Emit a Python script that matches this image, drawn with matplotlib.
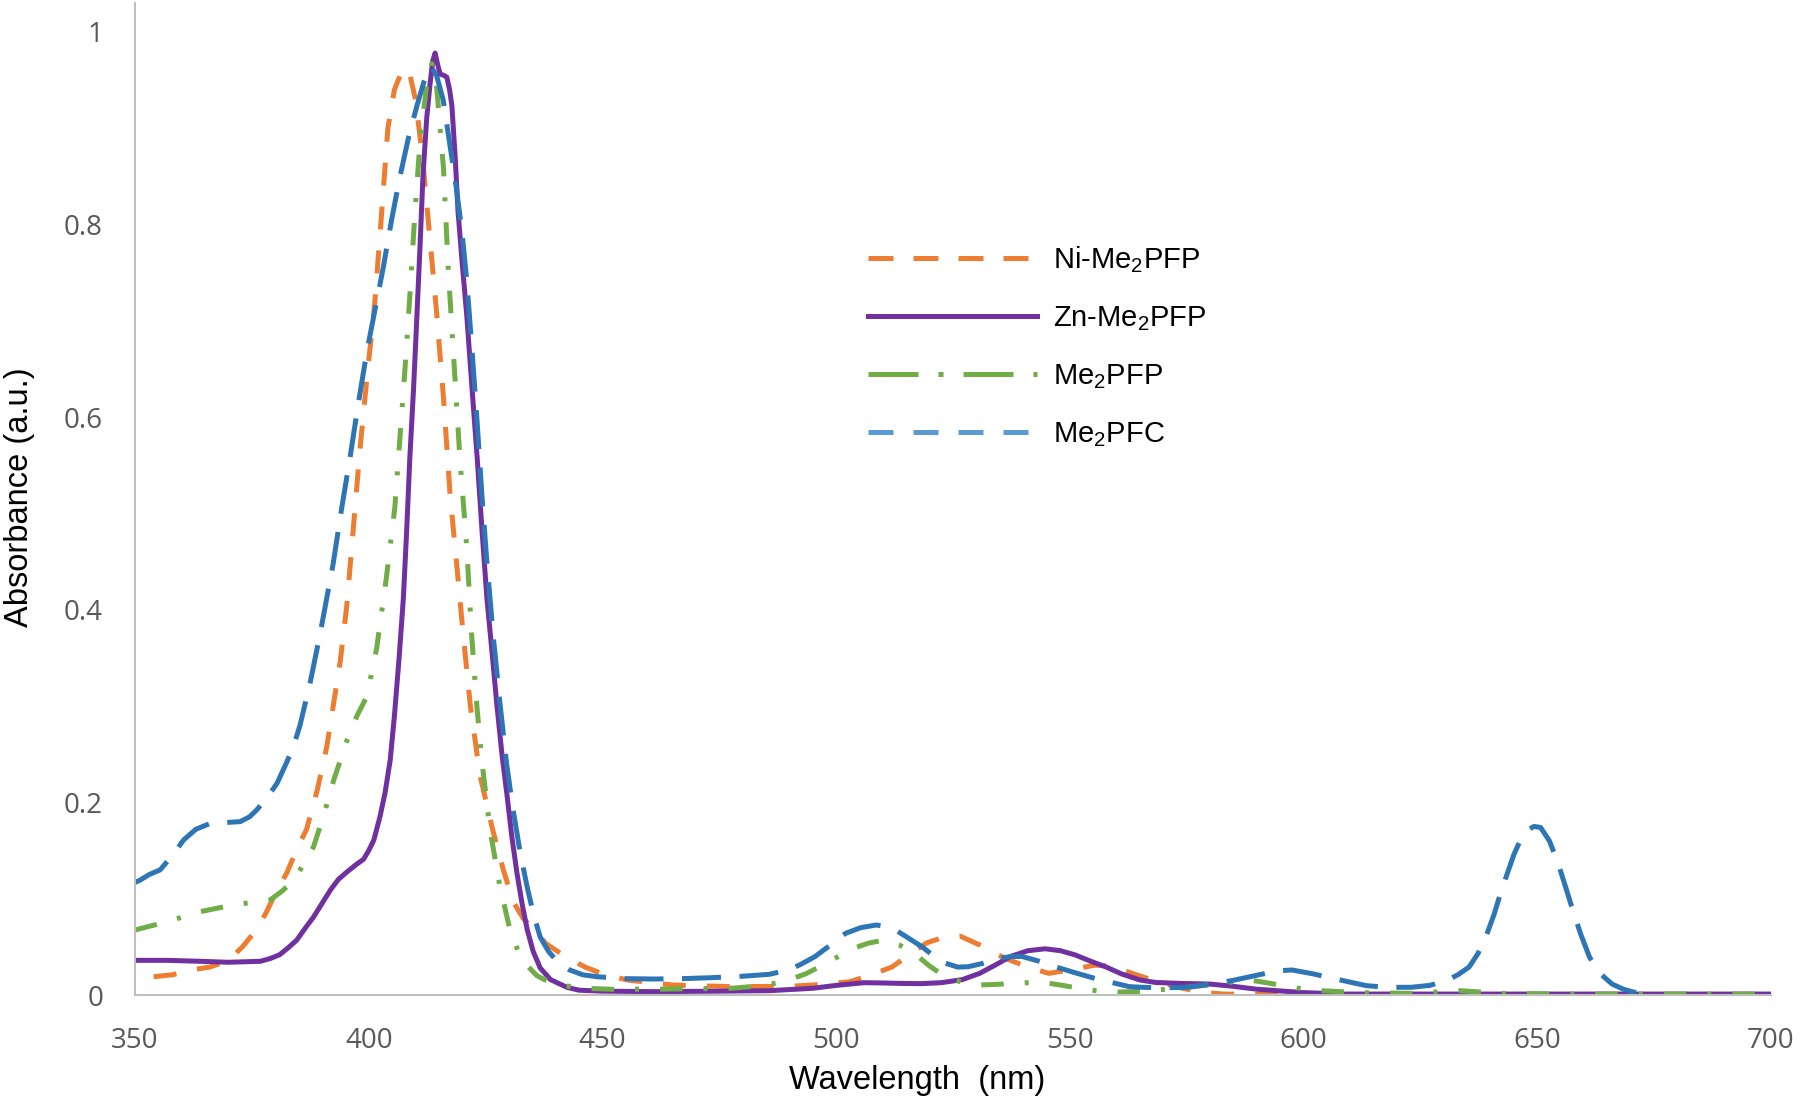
import matplotlib
matplotlib.use("Agg")
import matplotlib.pyplot as plt
from matplotlib.lines import Line2D

plt.rcParams['mathtext.fontset'] = 'custom'
plt.rcParams['mathtext.rm'] = 'Liberation Sans'
plt.rcParams['mathtext.it'] = 'Liberation Sans'
plt.rcParams['mathtext.default'] = 'rm'

labels = ["Ni-Me$_2$PFP", "Zn-Me$_2$PFP", "Me$_2$PFP", "Me$_2$PFC"]

ni_x = [354, 358, 362, 366, 370, 373, 376, 378, 380, 382.5, 384.5, 386.7, 389, 391, 392.4, 393.9, 395.3,
        396.6, 398.1, 399.6, 401.3, 402.8, 404.1, 405.5, 407, 408.5, 410, 411.5, 413, 414.5, 416, 417.4,
        418.8, 420.2, 421.7, 423.8, 426.6, 428.8, 430.9, 433, 435.2, 438, 442.4, 446.3, 450, 455.3, 465,
        477.5, 490, 497, 502.9, 507, 511.9, 516, 519.3, 523, 526.6, 530.7, 534, 537.3, 541, 545.5, 550,
        555.3, 559, 563.6, 568, 573.2, 578, 582.8, 600, 650, 700]
ni_y = [0.019, 0.021, 0.026, 0.029, 0.036, 0.05, 0.068, 0.085, 0.105, 0.127, 0.15, 0.172, 0.213, 0.257, 0.30,
        0.346, 0.404, 0.478, 0.565, 0.64, 0.719, 0.814, 0.90, 0.94, 0.958, 0.962, 0.93, 0.87, 0.79, 0.71,
        0.62, 0.52, 0.448, 0.375, 0.302, 0.228, 0.17, 0.13, 0.097, 0.08, 0.068, 0.053, 0.039, 0.029, 0.022,
        0.0156, 0.0104, 0.0087, 0.009, 0.011, 0.0138, 0.02, 0.029, 0.043, 0.054, 0.06, 0.061, 0.052, 0.043,
        0.036, 0.029, 0.0225, 0.026, 0.031, 0.03, 0.022, 0.015, 0.008, 0.003, 0.001, 0.0, 0.0, 0.0]

zn_x = [350, 357, 364, 370, 376.8, 379, 381, 383, 384.6, 386.5, 388.2, 390, 391.8, 393.5, 395.4, 397.2, 398.9,
        400, 401.1, 402.4, 403.5, 404.6, 405.5, 406.5, 407.4, 408.1, 408.8, 409.6, 410.3, 411, 411.6, 412.4,
        413.1, 413.7, 414.2, 414.8, 415.3, 416, 416.7, 417.3, 417.8, 418.5, 419.1, 420, 421, 422.1, 423.2,
        424.2, 425.3, 426.4, 427.4, 428.5, 429.6, 430.6, 431.7, 432.8, 433.9, 435.2, 436.7, 438.9, 442.4,
        445, 450, 461, 475, 485.7, 495, 500, 506, 510, 514.3, 518, 522.5, 527, 530.7, 534, 537.3, 541,
        544.7, 548, 551.2, 554.5, 557.8, 561, 565, 568.4, 574, 579.9, 585, 590, 594.3, 600, 608.6, 620,
        650, 700]
zn_y = [0.036, 0.036, 0.035, 0.034, 0.035, 0.038, 0.042, 0.05, 0.057, 0.07, 0.081, 0.095, 0.109, 0.12, 0.128,
        0.135, 0.141, 0.15, 0.161, 0.185, 0.21, 0.244, 0.29, 0.35, 0.411, 0.48, 0.558, 0.63, 0.704, 0.78,
        0.85, 0.91, 0.945, 0.97, 0.978, 0.965, 0.956, 0.955, 0.953, 0.94, 0.923, 0.87, 0.814, 0.76, 0.704,
        0.63, 0.558, 0.485, 0.411, 0.355, 0.302, 0.25, 0.207, 0.165, 0.127, 0.095, 0.068, 0.045, 0.028,
        0.016, 0.008, 0.005, 0.004, 0.0035, 0.004, 0.0045, 0.007, 0.01, 0.0128, 0.0125, 0.012, 0.0118,
        0.0128, 0.016, 0.0225, 0.031, 0.04, 0.046, 0.048, 0.046, 0.0415, 0.035, 0.029, 0.022, 0.0156, 0.013,
        0.012, 0.0114, 0.009, 0.006, 0.0045, 0.0025, 0.001, 0.001, 0.001, 0.001]

fp_x = [350, 356.8, 363.9, 371, 378.9, 381.5, 383.9, 386, 388.2, 390.4, 392.5, 395.4, 397.5, 399.6, 401.7,
        403.8, 405.6, 406.7, 407.8, 408.8, 409.9, 411, 412.4, 413.5, 414.5, 416, 417, 418.1, 419.5, 421, 422,
        423.1, 424.2, 426, 428.1, 430.2, 432, 433.8, 436, 438.8, 441.5, 445.9, 452, 461, 477.5, 485, 489.8,
        493.5, 497.1, 500.5, 503.7, 507, 510.2, 513.5, 516.8, 520, 523.4, 527, 530.7, 534, 538.1, 541, 544.7,
        548.5, 552.9, 556.5, 560.2, 566, 575.1, 582, 588.5, 593, 597.1, 603.8, 612, 623, 633.5, 642, 655, 700]
fp_y = [0.0675, 0.076, 0.0865, 0.0935, 0.0987, 0.108, 0.119, 0.135, 0.154, 0.187, 0.223, 0.265, 0.29, 0.31,
        0.36, 0.434, 0.507, 0.58, 0.653, 0.726, 0.814, 0.887, 0.945, 0.967, 0.945, 0.858, 0.755, 0.668, 0.558,
        0.463, 0.375, 0.302, 0.243, 0.17, 0.112, 0.068, 0.045, 0.031, 0.02, 0.013, 0.01, 0.007, 0.006, 0.006,
        0.007, 0.01, 0.0156, 0.022, 0.031, 0.04, 0.0485, 0.054, 0.057, 0.052, 0.043, 0.03, 0.019, 0.013,
        0.0104, 0.011, 0.012, 0.0128, 0.0128, 0.01, 0.006, 0.004, 0.003, 0.004, 0.008, 0.012, 0.0156, 0.012,
        0.008, 0.0045, 0.0025, 0.0017, 0.0045, 0.0017, 0.001, 0.001]

fc_x = [350, 351, 353, 355.4, 358, 360.4, 363, 366, 369, 372.5, 374.5, 376, 378.3, 380.4, 382.3, 383.9, 385.3,
        387.5, 389.6, 392.4, 394.2, 396, 397.8, 399.6, 401.4, 403.1, 404.9, 406.7, 408.5, 410.3, 411.8, 413.3,
        414.5, 415.9, 417.3, 418.8, 420, 421, 422.1, 423.2, 424.2, 425.3, 426.7, 428.1, 429.5, 430.9, 432.4,
        433.9, 435.3, 436.7, 438.5, 440.3, 443, 445.8, 448.8, 455, 461, 467, 473.4, 480, 485.7, 489.8, 492.5,
        495.5, 498.8, 502, 505.3, 508.6, 510.7, 512.7, 515.5, 518.4, 521, 523.4, 526, 528.3, 531.5, 534.8,
        537.5, 539.8, 543.5, 547.1, 551.2, 555.3, 559, 562.7, 565.6, 570, 575.1, 580, 584.7, 589.5, 594.3,
        597.5, 602, 607.5, 613.4, 618, 623, 627, 630.6, 633, 635.4, 637.3, 639.2, 640.7, 642.1, 643.5, 645,
        646.4, 647.8, 649.3, 650.7, 652.6, 654.5, 656, 657.4, 659.3, 661.2, 663.5, 666, 668.4, 670.8, 675]
fc_y = [0.117, 0.119, 0.125, 0.13, 0.145, 0.161, 0.172, 0.178, 0.179, 0.18, 0.185, 0.192, 0.205, 0.22, 0.24,
        0.258, 0.28, 0.325, 0.375, 0.448, 0.505, 0.558, 0.615, 0.668, 0.713, 0.755, 0.805, 0.85, 0.89, 0.923,
        0.948, 0.964, 0.955, 0.93, 0.885, 0.836, 0.79, 0.74, 0.67, 0.594, 0.52, 0.448, 0.37, 0.302, 0.24,
        0.192, 0.148, 0.112, 0.083, 0.06, 0.045, 0.035, 0.026, 0.021, 0.019, 0.017, 0.0166, 0.017, 0.018,
        0.0195, 0.0215, 0.026, 0.032, 0.04, 0.052, 0.064, 0.07, 0.0727, 0.071, 0.0675, 0.059, 0.05, 0.04,
        0.033, 0.029, 0.0294, 0.033, 0.038, 0.04, 0.04, 0.035, 0.029, 0.023, 0.0173, 0.013, 0.0087, 0.008,
        0.0075, 0.008, 0.011, 0.015, 0.02, 0.025, 0.026, 0.022, 0.016, 0.0097, 0.008, 0.008, 0.01, 0.015,
        0.021, 0.029, 0.043, 0.063, 0.083, 0.105, 0.125, 0.146, 0.161, 0.171, 0.175, 0.174, 0.16, 0.136,
        0.113, 0.091, 0.063, 0.039, 0.022, 0.0114, 0.006, 0.0028, 0.0015]

x_ticks = [350, 400, 450, 500, 550, 600, 650, 700]
y_ticks = [0, 0.2, 0.4, 0.6, 0.8, 1]

c_ni, c_zn, c_fp, c_fc, c_fc_leg = '#ED7D31', '#7030A0', '#70AD47', '#2E75B6', '#5B9BD5'

fig = plt.figure(figsize=(18, 11.03), dpi=100)
ax = fig.add_axes([0.075, 0.0979, 0.9089, 0.8994])

lw = 3.6
ax.plot(ni_x, ni_y, color=c_ni, lw=lw, dashes=(4.6, 4.2))
ax.plot(zn_x, zn_y, color=c_zn, lw=lw, solid_capstyle='round', solid_joinstyle='round')
ax.plot(fp_x, fp_y, color=c_fp, lw=lw, dashes=(4.5, 4.2, 0.8, 4.2))
ax.plot(fc_x, fc_y, color=c_fc, lw=lw, dashes=(7.8, 3.7))

ax.set_xlim(350, 700)
ax.set_ylim(0, 1.03)
ax.set_xticks(x_ticks)
ax.set_yticks(y_ticks)
ax.set_xticklabels([f"{v:g}" for v in x_ticks])
ax.set_yticklabels([f"{v:g}" for v in y_ticks])
ax.tick_params(length=0, labelsize=20, labelcolor='#595959')
ax.tick_params(axis='x', pad=23)
ax.tick_params(axis='y', pad=23)
for lab in ax.get_xticklabels() + ax.get_yticklabels():
    lab.set_family('Open Sans')
for s in ['top', 'right']:
    ax.spines[s].set_visible(False)
for s in ['left', 'bottom']:
    ax.spines[s].set_color('#BFBFBF')
    ax.spines[s].set_linewidth(1.5)

fig.text(917 / 1800, 1 - 1080 / 1103, "Wavelength  (nm)", ha='center', va='center',
         fontsize=23.5, family='Liberation Sans', color='black')
fig.text(20 / 1800, 1 - 497 / 1103, "Absorbance (a.u.)", ha='center', va='center', rotation=90,
         fontsize=23.5, family='Liberation Sans', color='black')

handles = [
    Line2D([], [], color=c_ni, lw=lw, dashes=(5, 4)),
    Line2D([], [], color=c_zn, lw=lw),
    Line2D([], [], color=c_fp, lw=lw, dashes=(10, 4, 1, 4)),
    Line2D([], [], color=c_fc_leg, lw=lw, dashes=(5, 4)),
]
leg = fig.legend(handles, labels, loc='upper left', bbox_to_anchor=(868 / 1800, 1 - 244 / 1103),
                 frameon=False, prop={'family': 'Liberation Sans', 'size': 21},
                 handlelength=5.8, handletextpad=0.55, labelspacing=1.0, borderpad=0, borderaxespad=0)

fig.savefig("out.png", dpi=100)
